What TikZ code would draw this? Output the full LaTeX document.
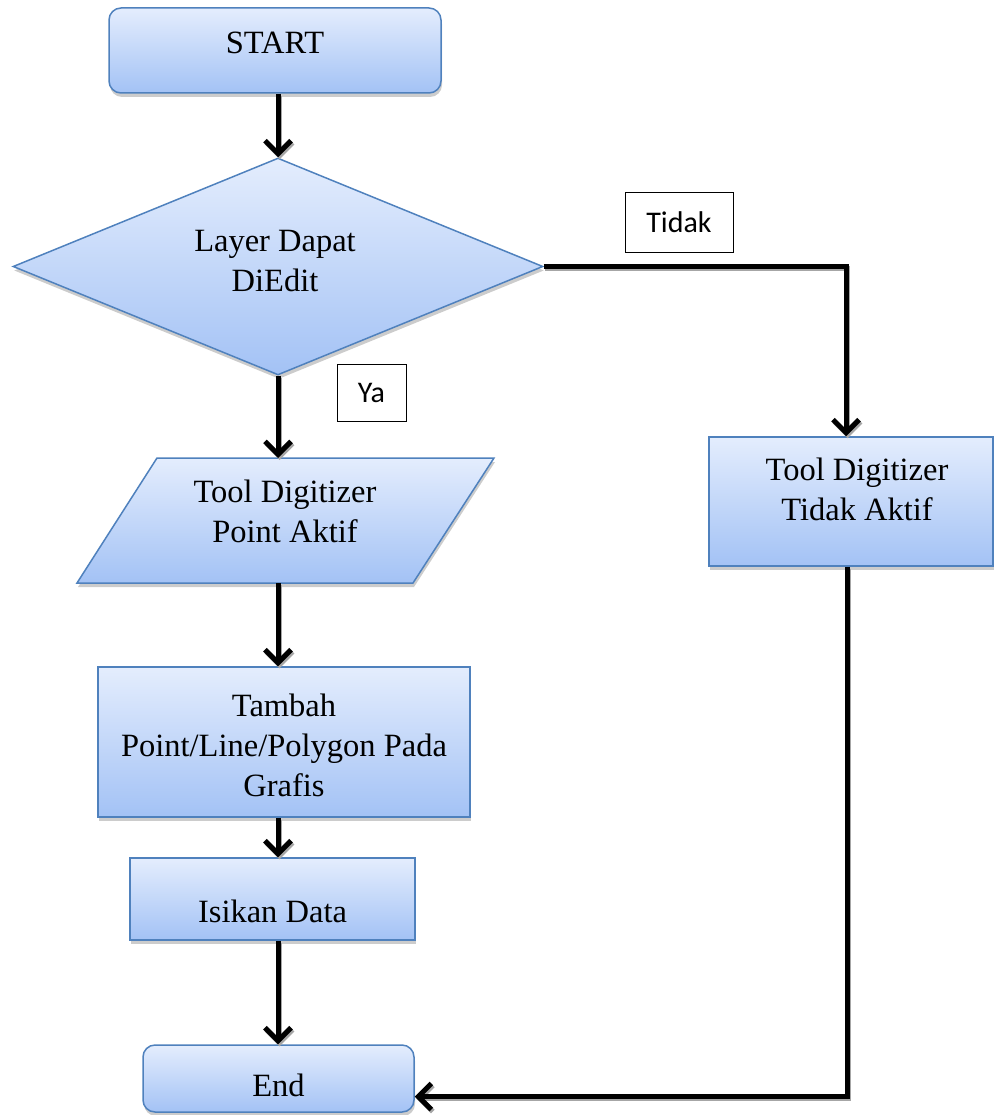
\documentclass[tikz,border=0pt]{standalone}
\usepackage{fontspec}
\setmainfont{Liberation Serif}
\newfontfamily\lblfont{Carlito}
\usetikzlibrary{shapes.geometric,shadows,arrows.meta}
\definecolor{boxblue}{RGB}{79,129,189}
\definecolor{topc}{RGB}{228,237,253}
\definecolor{botc}{RGB}{163,194,245}
\begin{document}
\begin{tikzpicture}[x=1pt,y=-1pt,
  shapestyle/.style={draw=boxblue, line width=1.5pt, top color=topc, bottom color=botc,
    drop shadow={shadow xshift=1pt,shadow yshift=-4pt,fill=black!40}},
  box/.style={shapestyle, inner sep=0pt},
  txt/.style={font=\fontsize{32.5}{40}\selectfont, align=center, inner sep=0pt},
  lbl/.style={draw=black, line width=1pt, fill=white, font=\lblfont\fontsize{30}{34}\selectfont, inner sep=0pt},
  arr/.style={line width=5pt, -{Straight Barb[length=13pt,width=26pt]},
    preaction={draw=black!35, line width=5pt, transform canvas={xshift=1.5pt,yshift=-2pt}}},
  ]
\useasboundingbox (0,0) rectangle (994,1115);
% shapes
\node[box, rounded corners=12pt, minimum width=332pt, minimum height=85pt] (start) at (275,50.5) {};
\node[box, diamond, aspect=2.44, minimum width=530pt, minimum height=217pt] (dia) at (278,266.5) {};
\path[shapestyle] (157,458) -- (494,458) -- (413,583) -- (77,583) -- cycle;
\coordinate (paraTop) at (278,458);
\coordinate (paraBot) at (278,583);
\node[box, minimum width=372pt, minimum height=150pt] (tambah) at (284,742) {};
\node[box, minimum width=285pt, minimum height=82pt] (isikan) at (272.5,899) {};
\node[box, rounded corners=12pt, minimum width=271pt, minimum height=67pt] (end) at (278.5,1078.5) {};
\node[box, minimum width=284pt, minimum height=129pt] (tool) at (851,501.5) {};
% texts
\node[txt] (startT) at (275,43) {START};
\node[txt] (diaT) at (275,261) {Layer Dapat\\DiEdit};
\node[txt] (paraT) at (285,511) {Tool Digitizer\\Point Aktif};
\node[txt] (tambahT) at (284,745) {Tambah\\Point/Line/Polygon Pada\\Grafis};
\node[txt] (isikanT) at (272.5,911) {Isikan Data};
\node[txt] (endT) at (278.5,1085) {End};
\node[txt] (toolT) at (857,489) {Tool Digitizer\\Tidak Aktif};
\node[lbl, minimum width=108pt, minimum height=59pt] (tidak) at (679,222.5) {Tidak};
\node[lbl, minimum width=69pt, minimum height=57pt] (ya) at (371.5,392.5) {Ya};
\coordinate (endIn) at ([yshift=-18pt]end.east);
\coordinate (toolIn) at ([xshift=-5pt]tool.north);
\coordinate (toolOut) at ([xshift=-4pt]tool.south);
% connectors
\draw[arr] (start.south -| paraTop) -- (dia.north -| paraTop);
\draw[arr] (dia.south) -- (paraTop);
\draw[arr] (paraBot) -- (tambah.north -| paraBot);
\draw[arr] (tambah.south -| paraBot) -- (isikan.north -| paraBot);
\draw[arr] (isikan.south -| paraBot) -- (end.north -| paraBot);
\draw[arr] (dia.east) -| (toolIn);
\draw[arr] (toolOut) |- (endIn);
\end{tikzpicture}
\end{document}
